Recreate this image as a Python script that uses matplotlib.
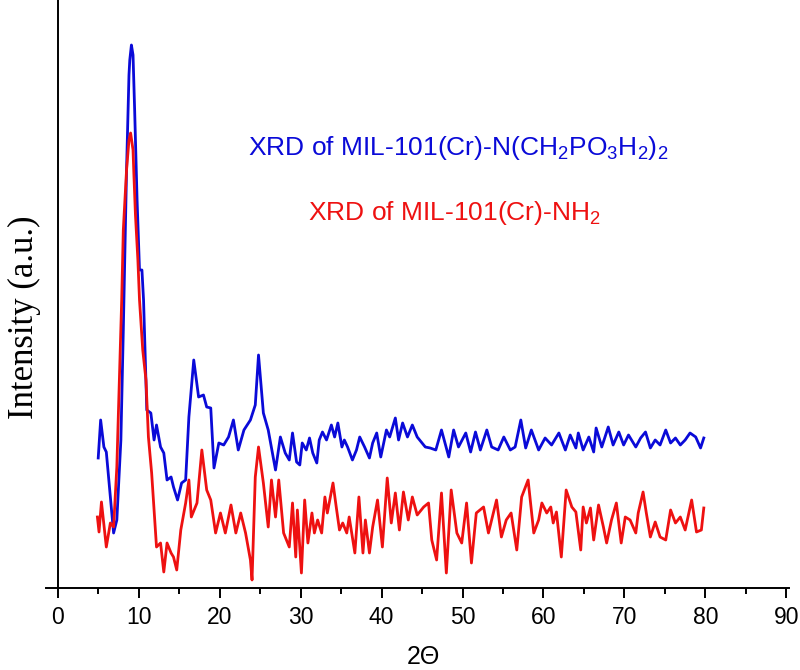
import matplotlib
matplotlib.use('Agg')
from matplotlib import pyplot as plt, ticker

plt.rcParams['font.family'] = ['Liberation Sans', 'DejaVu Sans']
plt.rcParams['mathtext.fontset'] = 'custom'
plt.rcParams['mathtext.rm'] = 'Liberation Sans'
plt.rcParams['mathtext.it'] = 'Liberation Sans:italic'
plt.rcParams['mathtext.bf'] = 'Liberation Sans:bold'

# XRD of MIL-101(Cr)-N(CH2PO3H2)2
blue_2theta = [5.0, 5.3, 5.7, 6.0, 6.5, 6.9, 7.3, 7.8, 8.1, 8.5, 8.8, 8.9, 9.1, 9.3, 9.5, 9.8,
               10.1, 10.4, 10.6, 11.0, 11.5, 11.9, 12.2, 12.7, 13.1, 13.5, 14.0, 14.3, 14.8,
               15.3, 15.8, 16.2, 16.8, 17.4, 18.0, 18.4, 18.9, 19.3, 19.9, 20.5, 21.1, 21.7,
               22.3, 23.0, 23.8, 24.4, 24.8, 25.4, 26.0, 26.9, 27.5, 28.1,
               28.6, 29.0, 29.5, 29.9, 30.2, 30.7, 31.1, 31.5, 32.0, 32.3, 32.7, 33.2, 33.8,
               34.2, 34.6, 35.1, 35.4, 35.8, 36.4, 36.9, 37.3, 37.9, 38.5, 38.9, 39.4, 39.9,
               40.6, 41.0, 41.7, 42.1, 42.6, 43.2, 43.8, 44.4,
               45.4, 46.0, 46.7, 47.4, 48.3,
               48.9, 49.5, 50.4, 51.0, 51.6, 52.2, 53.0, 53.6, 54.4, 55.1, 55.9, 56.5, 57.2,
               57.8, 58.5, 59.4, 60.2, 61.0, 61.9, 62.7, 63.3, 64.0, 64.3, 64.9, 65.6, 66.2,
               66.5, 67.2, 68.0, 68.6, 69.3, 69.9, 70.5, 71.4, 72.0, 72.6, 73.2, 73.8, 74.4,
               75.1, 75.7, 76.3, 76.9, 77.5, 78.1, 78.8, 79.4, 79.8]
blue_int = [129, 167, 140, 135, 90, 54, 67, 147, 257, 417, 512, 527, 542, 532, 477, 387,
            317, 317, 287, 177, 174, 147, 162, 140, 134, 107, 110, 100, 87,
            104, 107, 170, 227, 190, 192, 180, 179, 119, 144, 142, 150, 167,
            137, 157, 167, 182, 232, 174, 157, 117, 150, 134,
            127, 154, 125, 122, 144, 137, 149, 134, 124, 147, 155, 147, 162,
            150, 164, 140, 147, 140, 127, 137, 150, 140, 129, 144, 154, 130,
            157, 150, 169, 147, 164, 150, 162, 150,
            140, 139, 137, 157, 130,
            157, 140, 154, 135, 155, 137, 157, 140, 137, 150, 137, 140, 167,
            139, 157, 137, 149, 142, 154, 137, 152, 139, 154, 137, 150, 135,
            159, 140, 160, 142, 155, 142, 152, 140, 149, 155, 139, 147, 142,
            157, 144, 149, 142, 147, 154, 150, 139, 149]

# XRD of MIL-101(Cr)-NH2
red_2theta = [4.9, 5.1, 5.4, 6.0, 6.5, 6.9, 7.3, 7.9, 8.1, 8.5, 8.8, 9.0, 9.3, 9.4, 9.6, 9.9,
              10.1, 10.5, 10.9, 11.2, 11.6, 12.2, 12.7, 13.1, 13.5, 14.0, 14.3, 14.7, 15.2,
              15.8, 16.2, 16.5, 17.2, 17.8, 18.4, 18.9, 19.5, 20.1, 20.7, 21.4, 22.0, 22.6,
              23.2, 23.8, 24.0, 24.4, 24.8, 25.4, 26.0, 26.4, 26.9, 27.3, 27.9,
              28.6, 29.0, 29.4, 29.6, 30.1, 30.5, 30.9, 31.4, 31.7, 32.1, 32.6, 33.0, 33.3,
              34.0, 34.4, 34.8, 35.2, 35.7, 36.0, 36.7, 37.2, 37.7, 38.0, 38.5, 38.9, 39.5,
              40.1, 40.7, 41.2, 41.7, 42.2, 42.7, 43.3, 43.8, 44.4,
              45.2, 45.8, 46.2, 46.8, 47.4, 48.0, 48.6, 49.3, 49.9, 50.5, 51.1, 51.7,
              52.6, 53.2, 54.2, 54.8, 55.4, 56.0, 56.7, 57.3, 58.1, 58.8, 59.4, 59.8, 60.4,
              60.9, 61.2, 61.6, 62.2, 62.8, 63.5, 64.0, 64.6, 64.9, 65.3, 65.8, 66.2, 66.8,
              67.4, 67.8, 68.4, 69.0, 69.6, 70.1, 70.7, 71.4, 71.7, 72.3, 72.7, 73.2, 73.8,
              74.4, 75.1, 75.7, 76.3, 76.9, 77.5, 78.3, 78.9, 79.5, 79.8]
red_int = [70, 55, 85, 40, 64, 60, 120, 287, 357, 417, 447, 454, 437, 414, 372, 327,
           287, 237, 207, 150, 114, 40, 44, 15, 44, 34, 30, 17, 57,
           84, 107, 70, 84, 137, 97, 87, 54, 74, 54, 82, 54, 74,
           54, 27, 7, 110, 140, 104, 60, 107, 70, 107, 54,
           40, 84, 30, 77, 14, 87, 44, 74, 54, 67, 54, 90, 74,
           104, 80, 57, 64, 54, 70, 34, 90, 34, 67, 34, 60, 87,
           40, 109, 64, 94, 57, 95, 67, 90, 72,
           80, 84, 47, 27, 94, 14, 97, 54, 44, 84, 24, 74,
           80, 54, 87, 50, 67, 74, 37, 90, 107, 54, 67, 84, 74,
           80, 64, 75, 30, 97, 80, 75, 37, 80, 64, 79, 47, 82,
           60, 44, 67, 84, 44, 70, 67, 54, 74, 95, 74, 50, 65,
           50, 47, 77, 64, 70, 57, 87, 55, 57, 79]

xticks = [0, 10, 20, 30, 40, 50, 60, 70, 80, 90]


def plot():
    fig = plt.figure(figsize=(8, 6.7), dpi=100)
    ax = fig.add_axes([0.058, 0.1224, 0.928, 0.8776])

    ax.plot(blue_2theta, blue_int, color='#0a0ad8', lw=2.0, solid_joinstyle='round')
    ax.plot(red_2theta, red_int, color='#ee1111', lw=2.0, solid_joinstyle='round')

    ax.set_xlim(-1.4, 90.3)
    ax.set_ylim(-1, 587)

    ax.spines['top'].set_visible(False)
    ax.spines['right'].set_visible(False)
    ax.spines['left'].set_position(('data', 0))
    for s in ['left', 'bottom']:
        ax.spines[s].set_linewidth(1.4)

    ax.set_yticks([])
    ax.set_xticks(xticks)
    ax.xaxis.set_minor_locator(ticker.MultipleLocator(5))
    ax.tick_params(axis='x', which='major', direction='out', length=7, width=1.4,
                   labelsize=16.5, pad=6)
    ax.tick_params(axis='x', which='minor', direction='out', length=4, width=1.4)

    fig.text(0.5295, 6 / 670, '2Θ', fontsize=18, ha='center', va='baseline')
    fig.text(0.03, 0.527, 'Intensity (a.u.)', fontsize=25, family='Liberation Serif',
             rotation=90, ha='center', va='center')

    ax.text(0.31, 1 - 155 / 670, r'XRD of MIL-101(Cr)-N(CH$_2$PO$_3$H$_2$)$_2$',
            transform=fig.transFigure, color='#0a0ad8', fontsize=19, va='baseline')
    ax.text(0.385, 1 - 220 / 670, r'XRD of MIL-101(Cr)-NH$_2$',
            transform=fig.transFigure, color='#ee1111', fontsize=19, va='baseline')

    fig.savefig('out.png', dpi=100)


if __name__ == '__main__':
    plot()
